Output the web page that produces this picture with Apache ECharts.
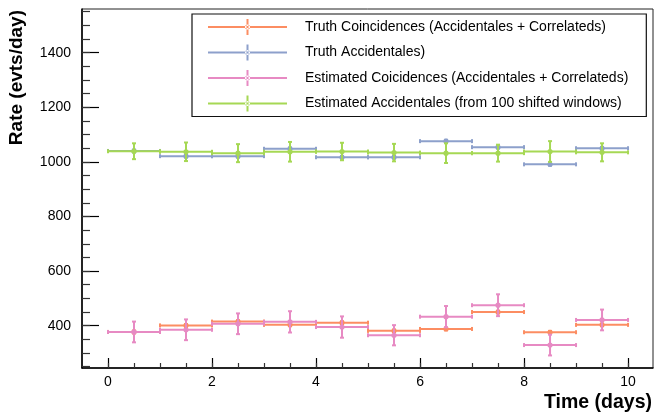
<!DOCTYPE html>
<html>
<head>
<meta charset="utf-8">
<script src="https://cdn.jsdelivr.net/npm/echarts@6/dist/echarts.min.js"></script>
<style>
  html, body { margin: 0; padding: 0; background: #fff; }
  #chart { width: 654px; height: 414px; }
</style>
</head>
<body>
<div id="chart"></div>
<script>
// Daily rates, one value per 1-day time bin
const binCenters = [0.5, 1.5, 2.5, 3.5, 4.5, 5.5, 6.5, 7.5, 8.5, 9.5];
const binHalfWidth = 0.5;

const truthCoinc    = [377, 401, 415, 403, 411, 381, 388, 450, 376, 403];
const truthCoincErr = [5, 5, 5, 5, 5, 5, 5, 5, 5, 5];

const truthAcc    = [1040, 1021, 1021, 1048, 1017, 1017, 1076, 1054, 991, 1050];
const truthAccErr = [5, 5, 5, 5, 5, 5, 5, 5, 5, 5];

const estCoinc    = [377, 385, 407, 414, 395, 365, 433, 475, 329, 421];
const estCoincErr = [38, 38, 38, 39, 39, 37, 39, 40, 38, 38];

const estAcc    = [1039, 1037, 1032, 1037, 1038, 1034, 1032, 1032, 1038, 1035];
const estAccErr = [29, 34, 33, 36, 32, 32, 36, 31, 38, 33];

const seriesNames = [
  'Truth Coincidences (Accidentales + Correlateds)',
  'Truth Accidentales)',
  'Estimated Coicidences (Accidentales + Correlateds)',
  'Estimated Accidentales (from 100 shifted windows)'
];
const seriesColors = ['#FC8D62', '#8DA0CB', '#E78AC3', '#A6D854'];

// Axis ticks and labels
const xMajorTicks = [0, 2, 4, 6, 8, 10];
const xMinorTicks = [0, 0.5, 1, 1.5, 2, 2.5, 3, 3.5, 4, 4.5, 5, 5.5, 6, 6.5, 7, 7.5, 8, 8.5, 9, 9.5, 10];
const yMajorTicks = [400, 600, 800, 1000, 1200, 1400];
const yMinorTicks = [250, 300, 350, 400, 450, 500, 550, 600, 650, 700, 750, 800, 850, 900, 950,
                     1000, 1050, 1100, 1150, 1200, 1250, 1300, 1350, 1400, 1450, 1500, 1550];

const xTitle = 'Time (days)';
const yTitle = 'Rate (evts/day)';

const FONT = '"Liberation Sans", Arial, Helvetica, sans-serif';
const X_MIN = -0.5, X_MAX = 10.48;
const Y_MIN = 245, Y_MAX = 1560;

function toRows(values, errors) {
  return binCenters.map((c, i) => [c, values[i], errors[i]]);
}

// Point with horizontal bin-width bar and vertical error bar, both capped
function renderErrorPoint(params, api) {
  const x = api.value(0), y = api.value(1), e = api.value(2);
  const color = api.visual('color');
  const pl = api.coord([x - binHalfWidth, y]);
  const pr = api.coord([x + binHalfWidth, y]);
  const pt = api.coord([x, y + e]);
  const pb = api.coord([x, y - e]);
  const pc = api.coord([x, y]);
  const cap = 2;
  const st = { stroke: color, lineWidth: 2 };
  const line = (x1, y1, x2, y2) => ({ type: 'line', shape: { x1, y1, x2, y2 }, style: st });
  return {
    type: 'group',
    children: [
      line(pl[0], pl[1], pr[0], pr[1]),
      line(pl[0], pl[1] - cap, pl[0], pl[1] + cap),
      line(pr[0], pr[1] - cap, pr[0], pr[1] + cap),
      line(pt[0], pt[1], pb[0], pb[1]),
      line(pt[0] - cap, pt[1], pt[0] + cap, pt[1]),
      line(pb[0] - cap, pb[1], pb[0] + cap, pb[1]),
      { type: 'circle', shape: { cx: pc[0], cy: pc[1], r: 2.6 }, style: { fill: color } }
    ]
  };
}

const dataSets = [
  toRows(truthCoinc, truthCoincErr),
  toRows(truthAcc, truthAccErr),
  toRows(estCoinc, estCoincErr),
  toRows(estAcc, estAccErr)
];

// Legend marker: horizontal bar, vertical bar and dot
const legendIcon = 'path://M0 7H79V9H0Z M38.5 0H40.5V16H38.5Z M37 8A2.5 2.5 0 1 0 42 8A2.5 2.5 0 1 0 37 8Z';

const chart = echarts.init(document.getElementById('chart'), null, { renderer: 'canvas' });

const axisLineStyle = { color: '#000', width: 1.5 };
const plainNumber = v => String(v);

chart.setOption({
  animation: false,
  backgroundColor: '#fff',
  color: seriesColors,
  textStyle: { fontFamily: FONT },
  grid: {
    left: 82, right: 1, top: 9, bottom: 46,
    show: true, borderColor: '#222', borderWidth: 1, backgroundColor: 'transparent'
  },
  xAxis: [
    {
      type: 'value', min: X_MIN, max: X_MAX, position: 'bottom',
      axisLine: { show: true, onZero: false, lineStyle: axisLineStyle },
      axisTick: { show: true, inside: true, length: 10, customValues: xMajorTicks, lineStyle: { color: '#000', width: 1.2 } },
      axisLabel: { show: true, customValues: xMajorTicks, formatter: plainNumber, margin: 7, fontSize: 14, color: '#000', fontFamily: FONT },
      splitLine: { show: false }
    },
    {
      type: 'value', min: X_MIN, max: X_MAX, position: 'bottom',
      axisLine: { show: false, onZero: false },
      axisTick: { show: true, inside: true, length: 5, customValues: xMinorTicks, lineStyle: { color: '#333', width: 1.2 } },
      axisLabel: { show: false },
      splitLine: { show: false }
    }
  ],
  yAxis: [
    {
      type: 'value', min: Y_MIN, max: Y_MAX, position: 'left',
      axisLine: { show: true, onZero: false, lineStyle: axisLineStyle },
      axisTick: { show: true, inside: true, length: 17, customValues: yMajorTicks, lineStyle: { color: '#000', width: 1.2 } },
      axisLabel: { show: true, customValues: yMajorTicks, formatter: plainNumber, margin: 11, fontSize: 14, color: '#000', fontFamily: FONT },
      splitLine: { show: false }
    },
    {
      type: 'value', min: Y_MIN, max: Y_MAX, position: 'left',
      axisLine: { show: false, onZero: false },
      axisTick: { show: true, inside: true, length: 8, customValues: yMinorTicks, lineStyle: { color: '#333', width: 1.2 } },
      axisLabel: { show: false },
      splitLine: { show: false }
    }
  ],
  legend: {
    orient: 'vertical',
    left: 192, top: 14,
    padding: [5, 18, 5, 16],
    itemWidth: 79, itemHeight: 16, itemGap: 9.5,
    icon: legendIcon,
    itemStyle: { borderWidth: 0 },
    borderColor: '#111', borderWidth: 1.2,
    backgroundColor: '#fff',
    textStyle: { fontSize: 14, color: '#000', fontFamily: FONT, padding: [0, 0, 0, 13] },
    data: seriesNames
  },
  graphic: [
    {
      type: 'text', x: 17, y: 10, rotation: Math.PI / 2,
      style: { text: yTitle, fill: '#000', font: 'bold 19px ' + FONT, textAlign: 'right', textVerticalAlign: 'middle' }
    },
    {
      type: 'text', x: 652, y: 403,
      style: { text: xTitle, fill: '#000', font: 'bold 19.5px ' + FONT, textAlign: 'right', textVerticalAlign: 'middle' }
    }
  ],
  series: seriesNames.map((name, i) => ({
    name,
    type: 'custom',
    xAxisIndex: 0, yAxisIndex: 0,
    itemStyle: { color: seriesColors[i] },
    renderItem: renderErrorPoint,
    encode: { x: 0, y: 1 },
    data: dataSets[i],
    clip: true,
    z: 2 + i
  }))
});
</script>
</body>
</html>
